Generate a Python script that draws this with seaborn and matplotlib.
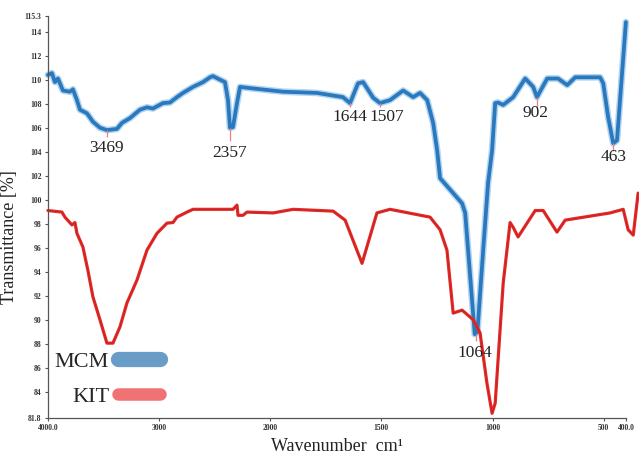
import numpy as np
import matplotlib
matplotlib.use("Agg")
import matplotlib.pyplot as plt
import seaborn as sns
from matplotlib.lines import Line2D

# 数据：FTIR 光谱（MCM 蓝色，KIT 红色）
mcm_wn = [4000, 3964, 3937, 3910, 3865, 3802, 3775, 3739, 3712, 3649, 3595, 3532,
          3469, 3379, 3334, 3262, 3172, 3109, 3055, 2965, 2902, 2839, 2785, 2695,
          2605, 2542, 2515, 2452, 2407, 2380, 2362, 2335, 2299, 2272, 2182, 1942,
          1790, 1673, 1641, 1605, 1582, 1537, 1506, 1461, 1402, 1357, 1326, 1294,
          1267, 1249, 1236, 1137, 1123, 1080, 1068, 1042, 1020, 1002, 988, 975,
          952, 907, 853, 817, 800, 754, 705, 664, 628, 516, 502, 480, 457, 440, 400]
mcm_t = [110.4, 110.55, 109.8, 110.1, 109.1, 109.0, 109.2, 108.3, 107.5, 107.2, 106.5, 106.0,
         105.8, 105.9, 106.4, 106.8, 107.5, 107.7, 107.6, 108.05, 108.1, 108.55, 108.9, 109.4,
         109.8, 110.2, 110.3, 110.0, 109.8, 108.3, 106.0, 106.05, 108.05, 109.4, 109.3, 109.0,
         108.9, 108.55, 108.05, 109.7, 109.8, 108.5, 108.05, 108.3, 109.1, 108.55, 108.9, 108.3,
         106.4, 104.1, 101.8, 99.7, 98.9, 88.8, 89.0, 95.8, 101.4, 104.1, 108.05, 108.1,
         107.9, 108.55, 110.1, 109.4, 108.55, 110.1, 110.1, 109.55, 110.2, 110.2, 109.7, 106.9, 104.7, 104.95, 114.8]

kit_wn = [4000, 3874, 3847, 3784, 3757, 3739, 3685, 3640, 3595, 3532, 3469, 3415,
          3352, 3289, 3199, 3109, 3019, 2929, 2875, 2839, 2749, 2695, 2335, 2299,
          2290, 2245, 2209, 1987, 1897, 1717, 1663, 1587, 1520, 1461, 1281, 1236,
          1205, 1177, 1137, 1087, 1056, 1025, 1002, 988, 952, 921, 907, 885,
          808, 772, 710, 673, 471, 412, 390, 367, 345]
kit_t = [99.1, 98.97, 98.55, 97.9, 98.1, 97.2, 96.05, 94.1, 91.9, 90.0, 88.05, 88.05,
         89.4, 91.4, 93.3, 95.8, 97.2, 98.05, 98.1, 98.55, 98.97, 99.2, 99.2, 99.55,
         98.7, 98.7, 98.97, 98.9, 99.2, 99.05, 98.3, 94.7, 98.9, 99.2, 98.55, 97.5,
         95.8, 90.55, 90.8, 90.0, 88.9, 84.7, 82.2, 83.05, 93.05, 98.1, 97.7, 96.9,
         99.1, 99.1, 97.3, 98.3, 98.9, 99.2, 97.5, 97.05, 100.55]

# 峰位标注（基于 MCM 曲线）
peak_text = ['3469', '2357', '1644', '1507', '902', '463', '1064']
peak_wn = [3469, 2362, 1641, 1506, 800, 457, 1074]
peak_top = [105.8, 106.0, 108.05, 108.05, 108.55, 104.7, 88.8]
peak_bot = [105.2, 104.9, 107.7, 107.7, 107.7, 104.1, 88.2]
label_wn = [3469, 2362, 1641, 1475, 808, 457, 1078]
label_t = [104.3, 103.9, 106.9, 106.9, 107.2, 103.6, 87.2]

y_ticks = [81.8, 84, 86, 88, 90, 92, 94, 96, 98, 100, 102, 104, 106, 108, 110, 112, 114, 115.3]
y_ticklabels = ['81.8', '84', '86', '88', '90', '92', '94', '96', '98', '100', '102', '104',
                '106', '108', '110', '112', '114', '115.3']
x_ticks = [4000, 3000, 2000, 1500, 1000, 500, 400]
x_ticklabels = ['4000.0', '3000', '2000', '1500', '1000', '500', '400.0']

blue = '#2a78bd'
blue_halo = '#a9d0ef'
red = '#e52a27'

sns.set_style('ticks')
plt.rcParams['font.family'] = ['Liberation Serif', 'DejaVu Serif']


# 2000 cm-1 以下刻度放大一倍
def fwd(x):
    x = np.asarray(x, dtype=float)
    return np.where(x >= 2000, x, 2 * x - 2000)


def inv(p):
    p = np.asarray(p, dtype=float)
    return np.where(p >= 2000, p, (p + 2000) / 2)


fig = plt.figure(figsize=(6.39, 4.54), dpi=100)
ax = fig.add_axes([0.075, 0.079, 0.9045, 0.8855])
ax.set_xscale('function', functions=(fwd, inv))

sns.lineplot(x=mcm_wn, y=mcm_t, sort=False, estimator=None, color=blue_halo,
             linewidth=4.8, ax=ax, alpha=0.9)
sns.lineplot(x=mcm_wn, y=mcm_t, sort=False, estimator=None, color=blue,
             linewidth=2.7, ax=ax)
sns.lineplot(x=kit_wn, y=kit_t, sort=False, estimator=None, color=red,
             linewidth=2.3, ax=ax)
sns.lineplot(x=kit_wn, y=kit_t, sort=False, estimator=None, color='#a51c1c',
             linewidth=0.5, alpha=0.6, ax=ax)
for ln in ax.lines:
    ln.set_clip_on(False)

ax.vlines(peak_wn, peak_bot, peak_top, color='#f08080', linewidth=0.9)
for t, xw, yv in zip(peak_text, label_wn, label_t):
    ax.text(xw, yv, t, ha='center', va='center', fontsize=12.5, color='#222222')

ax.set_xlim(4000, 400)
ax.set_ylim(81.8, 115.3)
ax.set_xticks(x_ticks)
ax.set_xticklabels(x_ticklabels, fontweight='bold')
ax.set_yticks(y_ticks)
ax.set_yticklabels(y_ticklabels, fontweight='bold')
ax.xaxis.set_minor_locator(matplotlib.ticker.NullLocator())
ax.tick_params(axis='both', labelsize=5.5, length=2.5, width=0.8, color='#555555',
               labelcolor='#333333', pad=2)
sns.despine(ax=ax)
for s in ['left', 'bottom']:
    ax.spines[s].set_color('#555555')
    ax.spines[s].set_linewidth(0.9)

ax.set_ylabel('Transmittance [%]', fontsize=13, color='#222222')
ax.yaxis.set_label_coords(-0.052, 0.45)
ax.set_xlabel('Wavenumber  cm¹', fontsize=13, color='#222222', labelpad=4)

handles = [Line2D([0], [0], color='#6a9cc8', linewidth=11, solid_capstyle='round'),
           Line2D([0], [0], color='#f07272', linewidth=9, solid_capstyle='round')]
ax.legend(handles, ['MCM', 'KIT'], loc='lower left', bbox_to_anchor=(-0.015, -0.01),
          markerfirst=False, frameon=False, fontsize=16, handlelength=1.9,
          handletextpad=0.4, labelspacing=0.65, borderaxespad=0.3)

fig.savefig('out.png', dpi=100)
